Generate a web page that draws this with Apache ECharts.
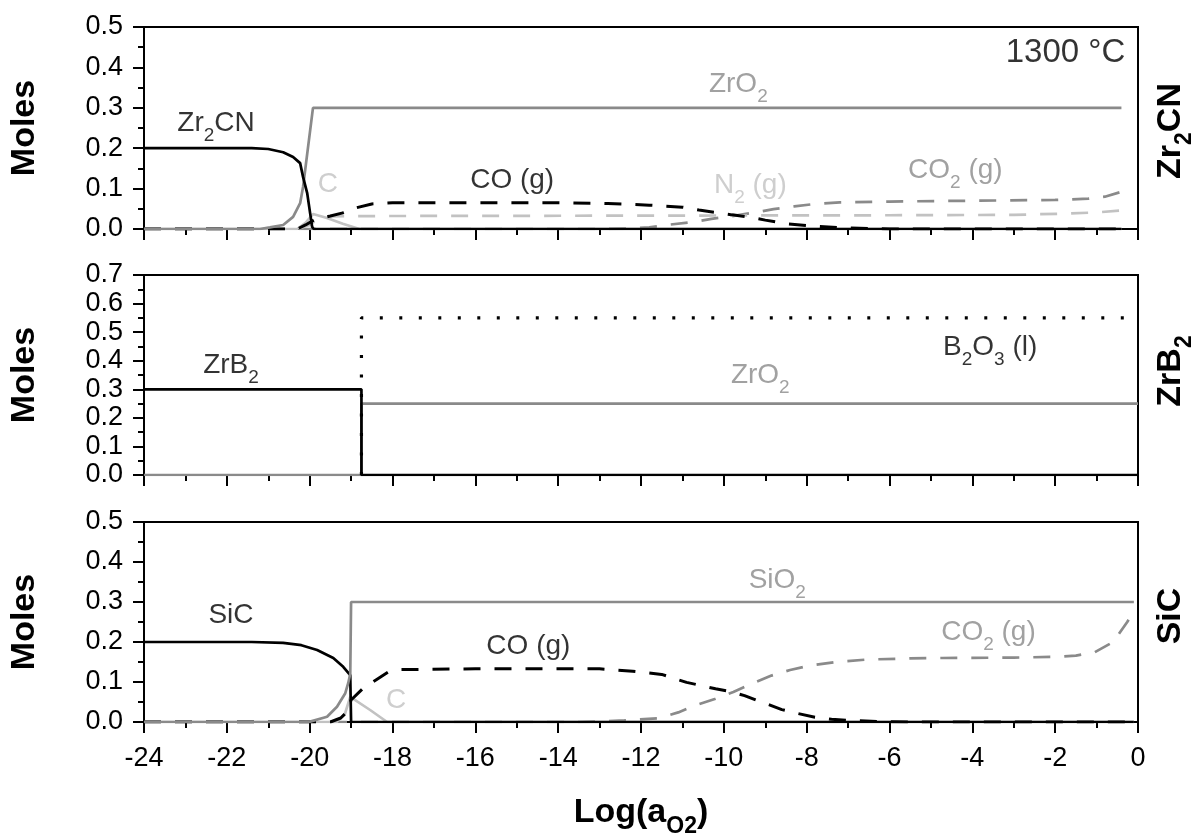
<!DOCTYPE html>
<html>
<head>
<meta charset="utf-8">
<script src="https://cdn.jsdelivr.net/npm/echarts@6/dist/echarts.min.js"></script>
<style>
  html, body { margin: 0; padding: 0; background: #fff; }
  #chart { width: 1194px; height: 840px; }
</style>
</head>
<body>
<div id="chart"></div>
<script>
// x = Log(aO2), y = moles
var xMin = -24, xMax = 0, xStep = 2;
var yMaxes = [0.5, 0.7, 0.5];

// --- panel 1 : Zr2CN ---
var zr2cnP1 = [[-24,0.2],[-21.4,0.2],[-21,0.198],[-20.64,0.19],[-20.4,0.178],[-20.23,0.163],[-20.16,0.129],[-20.06,0.089],[-19.99,0.04],[-19.94,0.005],[-19.9,0],[-0.4,0]];
var zro2P1 = [[-24,0],[-21.2,0],[-20.96,0.004],[-20.64,0.01],[-20.4,0.03],[-20.23,0.064],[-20.16,0.104],[-19.92,0.3],[-0.4,0.3]];
var cP1 = [[-24,0],[-20.3,0],[-20.1,0.015],[-19.92,0.037],[-19.6,0.028],[-19.2,0.013],[-18.8,0],[-0.4,0]];
var coP1 = [[-24,0],[-20.3,0],[-20.1,0.01],[-19.9,0.022],[-19.5,0.032],[-19.2,0.04],[-18.9,0.052],[-18.5,0.062],[-18,0.065],[-14,0.065],[-12.8,0.063],[-11.8,0.059],[-11,0.054],[-10.6,0.047],[-10.2,0.041],[-9.8,0.035],[-9.3,0.028],[-9,0.022],[-8.5,0.013],[-7.8,0.007],[-7.2,0.003],[-6.5,0.001],[-6,0],[-0.4,0]];
var n2P1 = [[-24,0],[-20.3,0],[-20,0.01],[-19.8,0.025],[-19.5,0.031],[-19,0.032],[-6,0.034],[-3,0.035],[-1.8,0.038],[-1,0.041],[-0.4,0.046]];
var co2P1 = [[-24,0],[-13,0],[-12.3,0.001],[-11.8,0.004],[-11.3,0.011],[-10.7,0.018],[-10.3,0.025],[-9.8,0.032],[-9.3,0.04],[-8.8,0.049],[-8.3,0.056],[-7.8,0.062],[-7.2,0.066],[-6,0.068],[-4,0.07],[-2,0.072],[-1.2,0.075],[-0.8,0.08],[-0.4,0.092]];

// --- panel 2 : ZrB2 ---
var zrb2P2 = [[-24,0.3],[-18.75,0.3],[-18.75,0],[0,0]];
var zro2P2 = [[-24,0],[-18.75,0],[-18.75,0.25],[0,0.25]];
var b2o3P2 = [[-18.75,0],[-18.75,0.55],[0,0.55]];

// --- panel 3 : SiC ---
var sicP3 = [[-24,0.2],[-21.4,0.2],[-20.64,0.198],[-20.2,0.192],[-19.82,0.18],[-19.43,0.16],[-19.19,0.138],[-19.02,0.117],[-19,0],[-0.1,0]];
var sio2P3 = [[-24,0],[-20.2,0],[-19.99,0.001],[-19.58,0.013],[-19.34,0.038],[-19.14,0.072],[-19.07,0.097],[-19.02,0.12],[-19,0.3],[-0.1,0.3]];
var cP3 = [[-24,0],[-19.35,0],[-19.15,0.02],[-19.02,0.063],[-18.54,0.03],[-18.13,0],[-0.1,0]];
var coP3 = [[-24,0],[-19.5,0],[-19.25,0.01],[-19.1,0.025],[-19,0.055],[-18.7,0.085],[-18.4,0.105],[-18.1,0.125],[-17.8,0.131],[-16,0.133],[-13,0.133],[-12.2,0.127],[-11.5,0.119],[-10.9,0.099],[-10.5,0.09],[-10.2,0.083],[-9.8,0.075],[-9.5,0.066],[-9.2,0.054],[-8.9,0.043],[-8.6,0.031],[-8.2,0.021],[-7.8,0.012],[-7.4,0.007],[-7,0.004],[-6.2,0.001],[-5.5,0],[-0.1,0]];
var co2P3 = [[-24,0],[-13.5,0],[-13,0.001],[-12.4,0.004],[-11.6,0.009],[-11.1,0.024],[-10.7,0.041],[-10.2,0.058],[-9.77,0.075],[-9.3,0.097],[-8.85,0.116],[-8.4,0.13],[-7.94,0.141],[-7.3,0.15],[-6.56,0.156],[-5.5,0.159],[-4.73,0.16],[-3,0.161],[-1.97,0.163],[-1.5,0.166],[-1.05,0.174],[-0.6,0.2],[-0.26,0.25],[-0.1,0.278]];

// annotations: [text, x, y, tone]
var notes = [
  [['{n|Zr}{s|2}{n|CN}', -22.26, 0.262, 'dark'],
   ['{n|ZrO}{s|2}', -9.65, 0.359, 'mid'],
   ['{n|C}', -19.56, 0.111, 'light'],
   ['{n|CO (g)}', -15.11, 0.121, 'dark'],
   ['{n|N}{s|2}{n| (g)}', -9.36, 0.109, 'light'],
   ['{n|CO}{s|2}{n| (g)}', -4.41, 0.146, 'mid'],
   ['{t|1300 °C}', -1.75, 0.435, 'dark']],
  [['{n|ZrB}{s|2}', -21.9, 0.385, 'dark'],
   ['{n|ZrO}{s|2}', -9.12, 0.35, 'mid'],
   ['{n|B}{s|2}{n|O}{s|3}{n| (l)}', -3.57, 0.448, 'dark']],
  [['{n|SiC}', -21.9, 0.2675, 'dark'],
   ['{n|SiO}{s|2}', -8.71, 0.355, 'mid'],
   ['{n|CO (g)}', -14.72, 0.19, 'dark'],
   ['{n|C}', -17.91, 0.055, 'light'],
   ['{n|CO}{s|2}{n| (g)}', -3.61, 0.225, 'mid']]
];
var sideNames = ['{b|Zr}{bs|2}{b|CN}', '{b|ZrB}{bs|2}', '{b|SiC}'];

var tone = { dark: '#000', mid: '#8a8a8a', light: '#c2c2c2' };
var font = 'Liberation Sans, Arial, sans-serif';
var gridTops = [27, 275, 522];
var gridH = [202, 200, 200];
var sideY = [131, 371, 616];

var richText = {
  n: { fontSize: 28, lineHeight: 44, fontFamily: font },
  s: { fontSize: 19, lineHeight: 20, verticalAlign: 'bottom', fontFamily: font },
  t: { fontSize: 33, lineHeight: 44, fontFamily: font }
};
var richBold = {
  b: { fontSize: 34, lineHeight: 50, fontWeight: 'bold', fontFamily: font },
  bs: { fontSize: 23, lineHeight: 23, verticalAlign: 'bottom', fontWeight: 'bold', fontFamily: font }
};

function curve(g, pts, color, dash, w) {
  return {
    type: 'line', xAxisIndex: g, yAxisIndex: g, data: pts,
    symbol: 'none', silent: true, animation: false, smooth: false,
    lineStyle: { color: color, width: w || 2.7, type: dash || 'solid' }
  };
}

var dashed = [17, 14];
var dotted = [3, 16.5];

var grids = [], xAxes = [], yAxes = [], series = [];
for (var i = 0; i < 3; i++) {
  grids.push({ left: 144, width: 994, top: gridTops[i], height: gridH[i], show: true, borderColor: '#000', borderWidth: 2, backgroundColor: 'transparent' });
  xAxes.push({
    type: 'value', gridIndex: i, min: xMin, max: xMax, interval: xStep,
    axisLine: { onZero: false, lineStyle: { color: '#000', width: 2 } },
    axisTick: { length: 11, lineStyle: { color: '#000', width: 2 } },
    minorTick: { show: true, splitNumber: 2, length: 6, lineStyle: { color: '#000', width: 2 } },
    splitLine: { show: false },
    axisLabel: { show: i === 2, fontSize: 27, color: '#000', margin: 23, fontFamily: font },
    name: i === 2 ? '{b|Log(a}{bs|O2}{b|)}' : '',
    nameLocation: 'middle', nameGap: 66,
    nameTextStyle: { rich: richBold }
  });
  yAxes.push({
    type: 'value', gridIndex: i, min: 0, max: yMaxes[i], interval: 0.1,
    axisLine: { onZero: false, lineStyle: { color: '#000', width: 2 } },
    axisTick: { length: 11, lineStyle: { color: '#000', width: 2 } },
    minorTick: { show: true, splitNumber: 2, length: 6, lineStyle: { color: '#000', width: 2 } },
    splitLine: { show: false },
    axisLabel: { fontSize: 27, color: '#000', margin: 21, fontFamily: font, formatter: function (v) { return v.toFixed(1); } },
    name: 'Moles', nameLocation: 'middle', nameGap: 102, nameRotate: 90,
    nameTextStyle: { fontSize: 34, fontWeight: 'bold', color: '#000', fontFamily: font }
  });
}

series.push(
  curve(0, co2P1, tone.mid, dashed),
  curve(0, n2P1, tone.light, dashed),
  curve(0, cP1, tone.light),
  curve(0, coP1, tone.dark, dashed, 3),
  curve(0, zro2P1, tone.mid),
  curve(0, zr2cnP1, tone.dark),

  curve(1, zro2P2, tone.mid),
  curve(1, zrb2P2, tone.dark),
  curve(1, b2o3P2, tone.dark, dotted, 3.2),

  curve(2, co2P3, tone.mid, dashed),
  curve(2, cP3, tone.light),
  curve(2, coP3, tone.dark, dashed, 3),
  curve(2, sicP3, tone.dark),
  curve(2, sio2P3, tone.mid)
);

notes.forEach(function (list, g) {
  series.push({
    type: 'scatter', xAxisIndex: g, yAxisIndex: g, symbolSize: 0, silent: true, animation: false,
    data: list.map(function (d) {
      return { name: d[0], value: [d[1], d[2]], label: { color: tone[d[3]] } };
    }),
    label: { show: true, position: 'inside', formatter: '{b}', rich: richText, align: 'center', verticalAlign: 'middle' }
  });
});

var sideGraphics = sideNames.map(function (t, i) {
  return {
    type: 'text', x: 1171, y: sideY[i], rotation: Math.PI / 2,
    style: { text: t, rich: richBold, fill: '#000', align: 'center', verticalAlign: 'middle', textAlign: 'center', textVerticalAlign: 'middle' }
  };
});

var chart = echarts.init(document.getElementById('chart'), null, { renderer: 'canvas' });
chart.setOption({
  backgroundColor: '#fff',
  animation: false,
  grid: grids,
  xAxis: xAxes,
  yAxis: yAxes,
  series: series,
  graphic: sideGraphics
});
</script>
</body>
</html>
